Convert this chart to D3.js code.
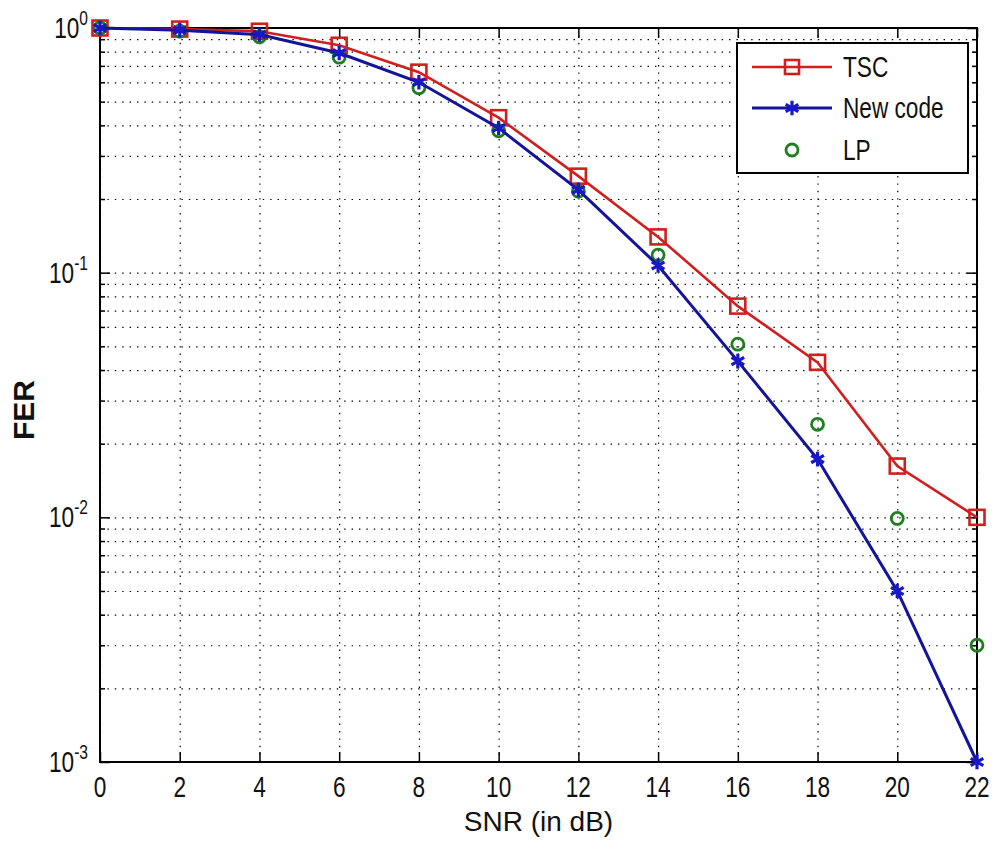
<!DOCTYPE html>
<html>
<head>
<meta charset="utf-8">
<script src="https://cdn.jsdelivr.net/npm/d3@7"></script>
<style>
  body { margin: 0; background: #fff; }
  svg { display: block; }
  .narrow { font-family: "Liberation Sans", Arial, sans-serif; }
</style>
</head>
<body>
<div id="chart"></div>
<script>
// SNR values (dB) on the x axis
const snr = [0, 2, 4, 6, 8, 10, 12, 14, 16, 18, 20, 22];
// FER for each scheme
const tsc     = [1.0, 0.99, 0.97, 0.85, 0.66, 0.43, 0.248, 0.14, 0.073, 0.043, 0.0162, 0.01];
const newCode = [1.0, 0.98, 0.94, 0.79, 0.60, 0.39, 0.218, 0.107, 0.0435, 0.0173, 0.005, 0.001];
const lp      = [1.0, 0.97, 0.92, 0.76, 0.57, 0.38, 0.215, 0.118, 0.051, 0.024, 0.0099, 0.003];
// tick labels
const xTicks = [0, 2, 4, 6, 8, 10, 12, 14, 16, 18, 20, 22];
const yDecades = [1, 0.1, 0.01, 0.001];
const yExponents = ["0", "-1", "-2", "-3"];
const legendNames = ["TSC", "New code", "LP"];

const W = 994, H = 854;
// plot box in page pixels
const m = { left: 100, right: 17, top: 28, bottom: 92 };
const w = W - m.left - m.right;
const h = H - m.top - m.bottom;
// the picture's labels use a condensed face, squeeze them sideways
const squeeze = 0.78;

const svg = d3.select("#chart").append("svg")
    .attr("width", W)
    .attr("height", H);

const g = svg.append("g").attr("transform", "translate(" + m.left + "," + m.top + ")");

const x = d3.scaleLinear().domain([0, 22]).range([0, w]);
const y = d3.scaleLog().domain([0.001, 1]).range([h, 0]);

// minor values 2..9 of every decade
let minor = [];
[0.001, 0.01, 0.1].forEach(d => {
    for (let k = 2; k <= 9; k++) minor.push(d * k);
});
const allY = yDecades.concat(minor);

// dotted grid
const dots = "1.4,6";
g.append("g")
    .attr("class", "grid")
    .call(d3.axisLeft(y).tickValues(allY).tickSize(-w).tickFormat(""))
    .call(s => s.select(".domain").remove())
    .call(s => s.selectAll("line").attr("stroke", "#000").attr("stroke-width", 1.2).attr("stroke-dasharray", dots));

g.append("g")
    .attr("class", "grid")
    .attr("transform", "translate(0," + h + ")")
    .call(d3.axisBottom(x).tickValues(xTicks).tickSize(-h).tickFormat(""))
    .call(s => s.select(".domain").remove())
    .call(s => s.selectAll("line").attr("stroke", "#000").attr("stroke-width", 1.2).attr("stroke-dasharray", dots));

// inward ticks on every side
function tickStyle(s) {
    s.select(".domain").remove();
    s.selectAll("line").attr("stroke", "#000").attr("stroke-width", 1.5);
}
g.append("g").attr("transform", "translate(0," + h + ")")
    .call(d3.axisBottom(x).tickValues(xTicks).tickSize(-10).tickFormat("")).call(tickStyle);
g.append("g")
    .call(d3.axisTop(x).tickValues(xTicks).tickSize(-10).tickFormat("")).call(tickStyle);
g.append("g")
    .call(d3.axisLeft(y).tickValues(yDecades).tickSize(-10).tickFormat("")).call(tickStyle);
g.append("g")
    .call(d3.axisLeft(y).tickValues(minor).tickSize(-5).tickFormat("")).call(tickStyle);
g.append("g").attr("transform", "translate(" + w + ",0)")
    .call(d3.axisRight(y).tickValues(yDecades).tickSize(-10).tickFormat("")).call(tickStyle);
g.append("g").attr("transform", "translate(" + w + ",0)")
    .call(d3.axisRight(y).tickValues(minor).tickSize(-5).tickFormat("")).call(tickStyle);

// box
g.append("rect")
    .attr("width", w).attr("height", h)
    .attr("fill", "none").attr("stroke", "#000").attr("stroke-width", 2);

// tick labels
g.selectAll(".xlab")
    .data(xTicks)
    .enter().append("text")
    .attr("class", "narrow")
    .attr("transform", d => "translate(" + x(d) + "," + (h + 35) + ") scale(" + squeeze + ",1)")
    .attr("text-anchor", "middle")
    .attr("font-size", 29)
    .attr("fill", "#111")
    .text(d => d);

const ylab = g.selectAll(".ylab")
    .data(yDecades)
    .enter().append("text")
    .attr("class", "narrow")
    .attr("transform", d => "translate(-12," + (y(d) + 10) + ") scale(" + squeeze + ",1)")
    .attr("text-anchor", "end")
    .attr("fill", "#111");
ylab.append("tspan").attr("font-size", 29).text("10");
ylab.append("tspan").attr("font-size", 20).attr("dy", -13).text((d, i) => yExponents[i]);

// axis titles
svg.append("text")
    .attr("x", m.left + w / 2)
    .attr("y", 831)
    .attr("text-anchor", "middle")
    .attr("font-family", "Liberation Sans, Arial, sans-serif")
    .attr("font-size", 28)
    .attr("fill", "#111")
    .text("SNR (in dB)");

svg.append("text")
    .attr("transform", "translate(34,410) rotate(-90)")
    .attr("text-anchor", "middle")
    .attr("font-family", "Liberation Sans, Arial, sans-serif")
    .attr("font-weight", "bold")
    .attr("font-size", 30)
    .attr("fill", "#111")
    .text("FER");

// series
const red = "#d01f1f", blue = "#14149a", green = "#1f7f1f", starBlue = "#1818c8";
const line = d3.line().x(d => x(d[0])).y(d => y(d[1]));

function pairs(vals) { return snr.map((s, i) => [s, vals[i]]); }

// TSC
g.append("path")
    .datum(pairs(tsc))
    .attr("d", line)
    .attr("fill", "none").attr("stroke", red).attr("stroke-width", 2.6);
g.selectAll(".sq")
    .data(pairs(tsc))
    .enter().append("rect")
    .attr("x", d => x(d[0]) - 7.5).attr("y", d => y(d[1]) - 7.5)
    .attr("width", 15).attr("height", 15)
    .attr("fill", "none").attr("stroke", red).attr("stroke-width", 2.6);

// LP
g.selectAll(".lp")
    .data(pairs(lp))
    .enter().append("circle")
    .attr("cx", d => x(d[0])).attr("cy", d => y(d[1]))
    .attr("r", 6)
    .attr("fill", "none").attr("stroke", green).attr("stroke-width", 2.8);

// New code
g.append("path")
    .datum(pairs(newCode))
    .attr("d", line)
    .attr("fill", "none").attr("stroke", blue).attr("stroke-width", 3);
const star = d3.symbol().type(d3.symbolAsterisk).size(150);
g.selectAll(".st")
    .data(pairs(newCode))
    .enter().append("path")
    .attr("transform", d => "translate(" + x(d[0]) + "," + y(d[1]) + ")")
    .attr("d", star)
    .attr("fill", "none").attr("stroke", starBlue).attr("stroke-width", 3.2);

// legend
const lg = svg.append("g");
lg.append("rect")
    .attr("x", 737).attr("y", 43).attr("width", 231).attr("height", 130)
    .attr("fill", "#fff").attr("stroke", "#000").attr("stroke-width", 2);
const rows = [67, 108, 150];
legendNames.forEach((name, i) => {
    const yy = rows[i];
    if (i === 0) {
        lg.append("line").attr("x1", 752).attr("x2", 832).attr("y1", yy).attr("y2", yy)
            .attr("stroke", red).attr("stroke-width", 2.6);
        lg.append("rect").attr("x", 785).attr("y", yy - 7).attr("width", 14).attr("height", 14)
            .attr("fill", "none").attr("stroke", red).attr("stroke-width", 2.6);
    } else if (i === 1) {
        lg.append("line").attr("x1", 752).attr("x2", 832).attr("y1", yy).attr("y2", yy)
            .attr("stroke", blue).attr("stroke-width", 3);
        lg.append("path").attr("transform", "translate(792," + yy + ")").attr("d", star)
            .attr("fill", "none").attr("stroke", starBlue).attr("stroke-width", 3.2);
    } else {
        lg.append("circle").attr("cx", 792).attr("cy", yy).attr("r", 6)
            .attr("fill", "none").attr("stroke", green).attr("stroke-width", 2.8);
    }
    lg.append("text")
        .attr("class", "narrow")
        .attr("transform", "translate(843," + (yy + 10) + ") scale(" + squeeze + ",1)")
        .attr("font-size", 29)
        .attr("fill", "#111")
        .text(name);
});
</script>
</body>
</html>
